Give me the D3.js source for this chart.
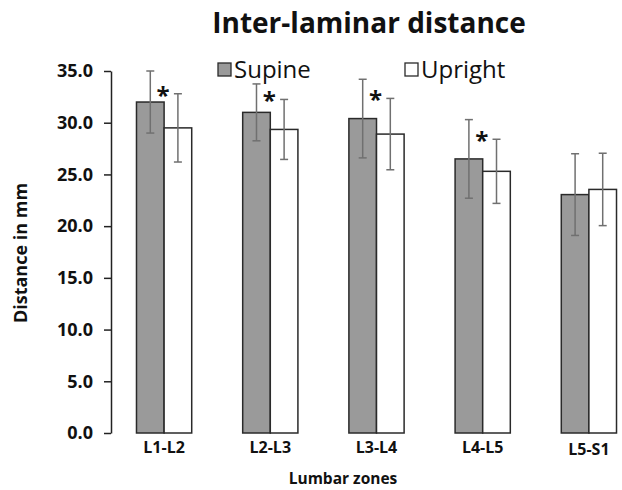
<!DOCTYPE html>
<html>
<head>
<meta charset="utf-8">
<script src="https://cdnjs.cloudflare.com/ajax/libs/d3/7.8.5/d3.min.js"></script>
<style>
  body { margin: 0; background: #fff; }
  text { font-family: "Open Sans", "Noto Sans", sans-serif; fill: #111; }
</style>
</head>
<body>
<div id="chart"></div>
<script>
var zones = ["L1-L2", "L2-L3", "L3-L4", "L4-L5", "L5-S1"];
var series = ["Supine", "Upright"];
var supineMean = [32.0, 31.0, 30.4, 26.5, 23.05];
var supineSD = [3.0, 2.75, 3.8, 3.8, 3.95];
var uprightMean = [29.5, 29.35, 28.9, 25.3, 23.55];
var uprightSD = [3.3, 2.9, 3.45, 3.1, 3.5];
var significant = [true, true, true, true, false];
var yTicks = [0, 5, 10, 15, 20, 25, 30, 35];

var W = 622, H = 490;
var margin = {top: 71, left: 111, bottom: 57};
var plotH = H - margin.top - margin.bottom;

var data = zones.map(function(z, i) {
  return {zone: z, sig: significant[i], vals: [
    {key: "Supine", mean: supineMean[i], sd: supineSD[i]},
    {key: "Upright", mean: uprightMean[i], sd: uprightSD[i]}
  ]};
});

var svg = d3.select("#chart").append("svg")
    .attr("width", W)
    .attr("height", H);

var x0 = d3.scaleBand()
    .domain(zones)
    .range([111, 642])
    .paddingInner(0.48)
    .paddingOuter(0.24);

var x1 = d3.scaleBand()
    .domain(series)
    .range([0, x0.bandwidth()]);

var y = d3.scaleLinear()
    .domain([0, 35])
    .range([margin.top + plotH, margin.top]);

var color = d3.scaleOrdinal().domain(series).range(["#9a9a9a", "#ffffff"]);

// y axis
var yAxis = d3.axisLeft(y)
    .tickValues(yTicks)
    .tickFormat(d3.format(".1f"))
    .tickSize(7)
    .tickSizeOuter(0);

var gy = svg.append("g")
    .attr("transform", "translate(111,0)")
    .call(yAxis);
gy.select(".domain").attr("stroke", "#222").attr("stroke-width", 1.5);
gy.selectAll(".tick line").attr("stroke", "#222").attr("stroke-width", 1.5);
gy.selectAll(".tick text")
    .attr("x", -18)
    .style("font-size", "18px")
    .style("font-weight", "bold")
    .style("fill", "#111");

// bars
var groups = svg.selectAll(".group")
    .data(data)
    .enter().append("g")
    .attr("class", "group")
    .attr("transform", function(d) { return "translate(" + x0(d.zone) + ",0)"; });

groups.selectAll("rect")
    .data(function(d) { return d.vals; })
    .enter().append("rect")
    .attr("x", function(d) { return x1(d.key); })
    .attr("width", x1.bandwidth())
    .attr("y", function(d) { return y(d.mean); })
    .attr("height", function(d) { return y(0) - y(d.mean); })
    .attr("fill", function(d) { return color(d.key); })
    .attr("stroke", "#2a2a2a")
    .attr("stroke-width", 1.5);

// error bars
var err = groups.selectAll(".err")
    .data(function(d) { return d.vals; })
    .enter().append("g")
    .attr("class", "err")
    .attr("stroke", "#707070")
    .attr("stroke-width", 1.5);

err.append("line")
    .attr("x1", function(d) { return x1(d.key) + x1.bandwidth() / 2; })
    .attr("x2", function(d) { return x1(d.key) + x1.bandwidth() / 2; })
    .attr("y1", function(d) { return y(d.mean - d.sd); })
    .attr("y2", function(d) { return y(d.mean + d.sd); });

[-1, 1].forEach(function(s) {
  err.append("line")
      .attr("x1", function(d) { return x1(d.key) + x1.bandwidth() / 2 - 4; })
      .attr("x2", function(d) { return x1(d.key) + x1.bandwidth() / 2 + 4; })
      .attr("y1", function(d) { return y(d.mean + s * d.sd); })
      .attr("y2", function(d) { return y(d.mean + s * d.sd); });
});

// significance stars
groups.filter(function(d) { return d.sig; })
    .append("text")
    .attr("x", x0.bandwidth() / 2 - 1)
    .attr("y", function(d) { return y(d.vals[1].mean + d.vals[1].sd) + 10; })
    .attr("text-anchor", "middle")
    .style("font-size", "24px")
    .style("font-weight", "bold")
    .text("*");

// category labels
svg.selectAll(".cat")
    .data(zones)
    .enter().append("text")
    .attr("class", "cat")
    .attr("x", function(d) { return x0(d) + x0.bandwidth() / 2; })
    .attr("y", function(d, i) { return i == 4 ? 455 : 453; })
    .attr("text-anchor", "middle")
    .style("font-size", "16px")
    .style("font-weight", "bold")
    .text(function(d) { return d; });

// title
svg.append("text")
    .attr("x", 369)
    .attr("y", 33)
    .attr("text-anchor", "middle")
    .style("font-size", "28px")
    .style("font-weight", "bold")
    .text("Inter-laminar distance");

// axis titles
svg.append("text")
    .attr("transform", "translate(27,253) rotate(-90)")
    .attr("text-anchor", "middle")
    .style("font-size", "18px")
    .style("font-weight", "bold")
    .text("Distance in mm");

svg.append("text")
    .attr("x", 343)
    .attr("y", 484)
    .attr("text-anchor", "middle")
    .style("font-size", "15.5px")
    .style("font-weight", "bold")
    .text("Lumbar zones");

// legend
var legendX = [218, 405];
var legend = svg.selectAll(".legend")
    .data(series)
    .enter().append("g")
    .attr("class", "legend")
    .attr("transform", function(d, i) { return "translate(" + legendX[i] + ",63)"; });

legend.append("rect")
    .attr("width", 13)
    .attr("height", 13)
    .attr("fill", function(d) { return color(d); })
    .attr("stroke", "#2a2a2a")
    .attr("stroke-width", 1.3);

legend.append("text")
    .attr("x", 16)
    .attr("y", 15)
    .style("font-size", "24px")
    .text(function(d) { return d; });
</script>
</body>
</html>
